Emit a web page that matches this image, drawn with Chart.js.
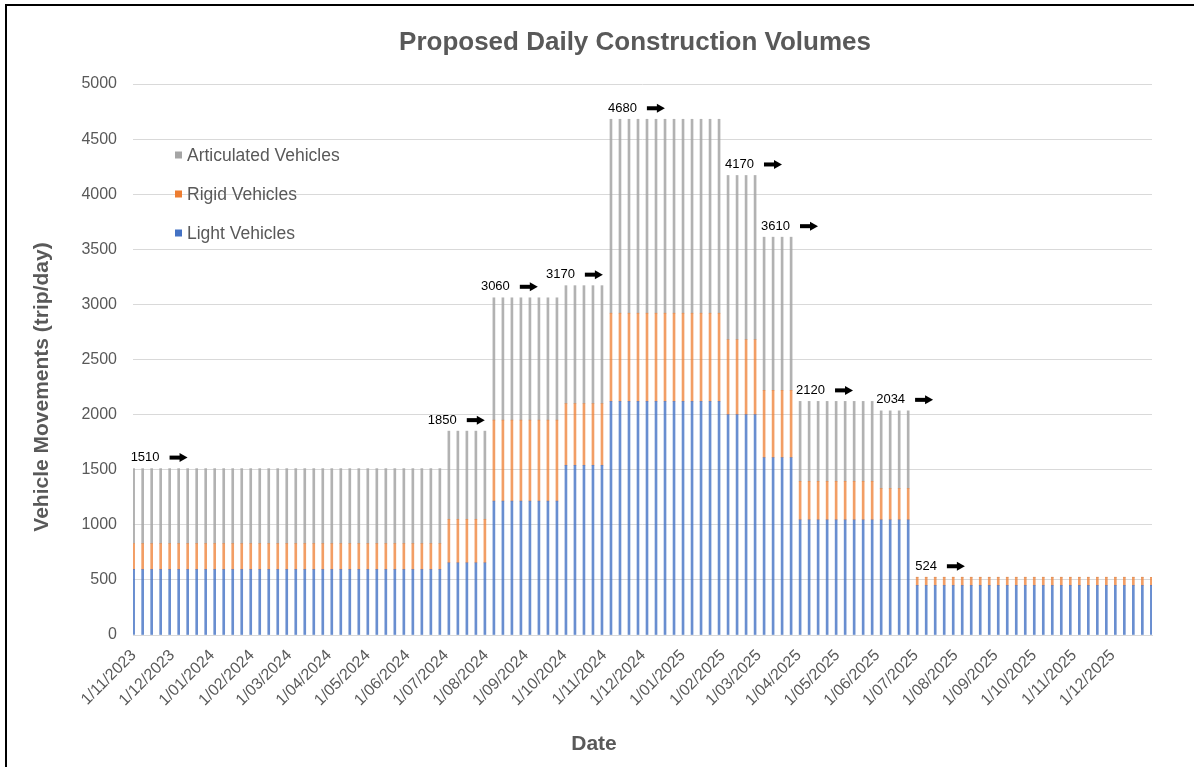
<!DOCTYPE html>
<html><head><meta charset="utf-8">
<script src="https://cdn.jsdelivr.net/npm/chart.js@4.4.0/dist/chart.umd.min.js"></script>
<style>html,body{margin:0;padding:0;background:#fff;}#wrap{width:1194px;height:767px;position:relative;}</style>
</head><body><div id="wrap"><canvas id="c" width="1194" height="767"></canvas></div>
<script>
const chartTitle = 'Proposed Daily Construction Volumes';
const yTitle = 'Vehicle Movements (trip/day)';
const xTitle = 'Date';

const weekDates = [
 '1/11/2023','8/11/2023','15/11/2023','22/11/2023','29/11/2023',
 '6/12/2023','13/12/2023','20/12/2023','27/12/2023',
 '3/01/2024','10/01/2024','17/01/2024','24/01/2024','31/01/2024',
 '7/02/2024','14/02/2024','21/02/2024','28/02/2024',
 '6/03/2024','13/03/2024','20/03/2024','27/03/2024',
 '3/04/2024','10/04/2024','17/04/2024','24/04/2024',
 '1/05/2024','8/05/2024','15/05/2024','22/05/2024','29/05/2024',
 '5/06/2024','12/06/2024','19/06/2024','26/06/2024',
 '3/07/2024','10/07/2024','17/07/2024','24/07/2024','31/07/2024',
 '7/08/2024','14/08/2024','21/08/2024','28/08/2024',
 '4/09/2024','11/09/2024','18/09/2024','25/09/2024',
 '2/10/2024','9/10/2024','16/10/2024','23/10/2024','30/10/2024',
 '6/11/2024','13/11/2024','20/11/2024','27/11/2024',
 '4/12/2024','11/12/2024','18/12/2024','25/12/2024',
 '1/01/2025','8/01/2025','15/01/2025','22/01/2025','29/01/2025',
 '5/02/2025','12/02/2025','19/02/2025','26/02/2025',
 '5/03/2025','12/03/2025','19/03/2025','26/03/2025',
 '2/04/2025','9/04/2025','16/04/2025','23/04/2025','30/04/2025',
 '7/05/2025','14/05/2025','21/05/2025','28/05/2025',
 '4/06/2025','11/06/2025','18/06/2025','25/06/2025',
 '2/07/2025','9/07/2025','16/07/2025','23/07/2025','30/07/2025',
 '6/08/2025','13/08/2025','20/08/2025','27/08/2025',
 '3/09/2025','10/09/2025','17/09/2025','24/09/2025',
 '1/10/2025','8/10/2025','15/10/2025','22/10/2025','29/10/2025',
 '5/11/2025','12/11/2025','19/11/2025','26/11/2025',
 '3/12/2025','10/12/2025','17/12/2025','24/12/2025','31/12/2025'
];

const monthLabels = [
 '1/11/2023','1/12/2023','1/01/2024','1/02/2024','1/03/2024','1/04/2024','1/05/2024',
 '1/06/2024','1/07/2024','1/08/2024','1/09/2024','1/10/2024','1/11/2024','1/12/2024',
 '1/01/2025','1/02/2025','1/03/2025','1/04/2025','1/05/2025','1/06/2025','1/07/2025',
 '1/08/2025','1/09/2025','1/10/2025','1/11/2025','1/12/2025'
];

const lightVehicles = [
 595,595,595,595,595, 595,595,595,595, 595,595,595,595,595, 595,595,595,595,
 595,595,595,595, 595,595,595,595, 595,595,595,595,595, 595,595,595,595,
 655,655,655,655,655,
 1215,1215,1215,1215, 1215,1215,1215,1215,
 1540,1540,1540,1540,1540,
 2120,2120,2120,2120, 2120,2120,2120,2120, 2120,2120,2120,2120,2120,
 2000,2000,2000,2000,
 1610,1610,1610,1610,
 1045,1045,1045,1045,1045, 1045,1045,1045,1045,
 1045,1045,1045,1045,
 450,450,450,450,450, 450,450,450,450, 450,450,450,450, 450,450,450,450,450,
 450,450,450,450, 450,450,450,450,450
];
const rigidVehicles = [
 235,235,235,235,235, 235,235,235,235, 235,235,235,235,235, 235,235,235,235,
 235,235,235,235, 235,235,235,235, 235,235,235,235,235, 235,235,235,235,
 395,395,395,395,395,
 735,735,735,735, 735,735,735,735,
 560,560,560,560,560,
 800,800,800,800, 800,800,800,800, 800,800,800,800,800,
 680,680,680,680,
 610,610,610,610,
 350,350,350,350,350, 350,350,350,350,
 285,285,285,285,
 74,74,74,74,74, 74,74,74,74, 74,74,74,74, 74,74,74,74,74,
 74,74,74,74, 74,74,74,74,74
];
const articulatedVehicles = [
 680,680,680,680,680, 680,680,680,680, 680,680,680,680,680, 680,680,680,680,
 680,680,680,680, 680,680,680,680, 680,680,680,680,680, 680,680,680,680,
 800,800,800,800,800,
 1110,1110,1110,1110, 1110,1110,1110,1110,
 1070,1070,1070,1070,1070,
 1760,1760,1760,1760, 1760,1760,1760,1760, 1760,1760,1760,1760,1760,
 1490,1490,1490,1490,
 1390,1390,1390,1390,
 725,725,725,725,725, 725,725,725,725,
 704,704,704,704,
 0,0,0,0,0, 0,0,0,0, 0,0,0,0, 0,0,0,0,0,
 0,0,0,0, 0,0,0,0,0
];
// first week of each annotated phase
const annotationIndex = [0,35,40,48,53,66,70,74,83,87];
// horizontal placement of each callout text relative to its bar (pixels)
const annotationShift = [-3,-21,-13,-20,-3,-3,-3,-4,-5,-2];

const seriesNames = ['Light Vehicles','Rigid Vehicles','Articulated Vehicles'];
const seriesColors = ['#4472C4','#ED7D31','#A5A5A5'];
const barColors = ['rgba(68,114,196,0.8)','rgba(237,125,49,0.75)','rgba(165,165,165,0.85)'];

function dayOffset(s){
  const [d,m,y] = s.split('/').map(Number);
  return Math.round((Date.UTC(y,m-1,d) - Date.UTC(2023,10,1)) / 86400000);
}
const weekX = weekDates.map(dayOffset);
const monthX = monthLabels.map(dayOffset);

const FONT = '"Liberation Sans", Arial, Helvetica, sans-serif';
Chart.defaults.font.family = FONT;

const seriesValues = [lightVehicles, rigidVehicles, articulatedVehicles];
const datasets = seriesValues.map((arr,k)=>({
  label: seriesNames[k],
  data: arr.map((v,i)=>({x: weekX[i], y: v})),
  backgroundColor: barColors[k],
  borderWidth: 0,
  barThickness: 2,
  grouped: false
}));

const extras = {
  id: 'extras',
  afterDraw(chart){
    const ctx = chart.ctx, xs = chart.scales.x, ys = chart.scales.y;
    ctx.save();
    // frame
    ctx.strokeStyle = '#000'; ctx.lineWidth = 2;
    ctx.beginPath(); ctx.moveTo(6, 767); ctx.lineTo(6, 5); ctx.lineTo(1194, 5); ctx.stroke();
    // title
    ctx.fillStyle = '#595959';
    ctx.textAlign = 'center'; ctx.textBaseline = 'middle';
    ctx.font = 'bold 26px ' + FONT;
    ctx.fillText(chartTitle, 635, 43);
    // axis titles
    ctx.font = 'bold 21px ' + FONT;
    ctx.fillText(xTitle, 594, 744);
    ctx.save(); ctx.translate(42, 387); ctx.rotate(-Math.PI/2);
    ctx.fillText(yTitle, 0, 0); ctx.restore();
    // legend
    ctx.font = '17.5px ' + FONT; ctx.textAlign = 'left';
    const order = [2,1,0];
    order.forEach((k,j)=>{
      const cy = 155 + j*39;
      ctx.fillStyle = seriesColors[k];
      ctx.fillRect(175, cy-3.5, 7, 7);
      ctx.fillStyle = '#595959';
      ctx.fillText(seriesNames[k], 187, cy+1);
    });
    // annotations
    ctx.font = '13px ' + FONT; ctx.textAlign = 'left'; ctx.textBaseline = 'middle';
    annotationIndex.forEach((i,n)=>{
      const total = lightVehicles[i] + rigidVehicles[i] + articulatedVehicles[i];
      const x = xs.getPixelForValue(weekX[i]);
      const y = ys.getPixelForValue(total) - 11;
      const tx = x + annotationShift[n];
      ctx.fillStyle = '#000';
      ctx.fillText(String(total), tx, y);
      const w = ctx.measureText(String(total)).width;
      const ax = tx + w + 10;
      ctx.fillRect(ax, y-2, 11, 4);
      ctx.beginPath(); ctx.moveTo(ax+10, y-4.5); ctx.lineTo(ax+18, y); ctx.lineTo(ax+10, y+4.5); ctx.closePath(); ctx.fill();
    });
    ctx.restore();
  }
};

new Chart(document.getElementById('c'), {
  type: 'bar',
  data: { datasets },
  options: {
    responsive: false, animation: false, devicePixelRatio: 1,
    layout: { padding: { top: 84, right: 42, left: 0, bottom: 0 } },
    plugins: { legend: { display: false }, title: { display: false }, tooltip: { enabled: false } },
    scales: {
      x: {
        type: 'linear', min: -0.5, max: 791.5, offset: false,
        grid: { display: false, drawTicks: false },
        border: { display: true, color: '#D9D9D9', width: 1 },
        afterBuildTicks: s => { s.ticks = monthX.map(v => ({ value: v })); },
        afterFit: s => { s.height = 132; },
        ticks: { autoSkip: false, minRotation: 45, maxRotation: 45, padding: 11, color: '#595959',
                 font: { size: 16 }, callback: (v, i) => monthLabels[i] }
      },
      y: {
        min: 0, max: 5000, stacked: true,
        grid: { color: '#D9D9D9', drawTicks: false },
        border: { display: false },
        afterFit: s => { s.width = 133; },
        ticks: { stepSize: 500, padding: 16, color: '#595959', font: { size: 16 },
                 callback: v => String(v) }
      }
    }
  },
  plugins: [extras]
});
</script></body></html>
